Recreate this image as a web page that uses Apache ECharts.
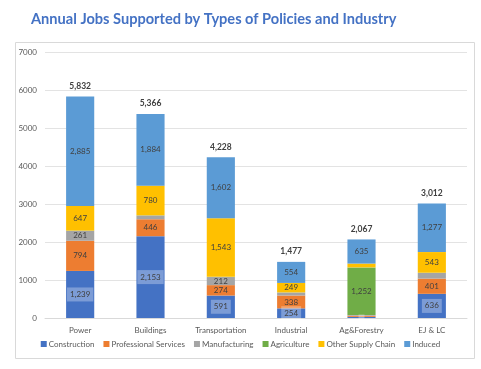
<!DOCTYPE html>
<html><head><meta charset="utf-8">
<script src="https://cdn.jsdelivr.net/npm/echarts@6/dist/echarts.min.js"></script>
<style>html,body{margin:0;padding:0;background:#fff;}#c{width:481px;height:369px;}</style>
</head><body><div id="c"></div>
<script>
const categories = ['Power','Buildings','Transportation','Industrial','Ag&Forestry','EJ & LC'];
const construction = [1239, 2153, 591, 254, 30, 636];
const professional = [794, 446, 274, 338, 30, 401];
const manufacturing = [261, 100, 212, 80, 20, 150];
const agriculture = [6, 3, 6, 2, 1252, 5];
const otherSupply = [647, 780, 1543, 249, 100, 543];
const induced = [2885, 1884, 1602, 554, 635, 1277];
const totals = [5832, 5366, 4228, 1477, 2067, 3012];
const yTicks = [0, 1000, 2000, 3000, 4000, 5000, 6000, 7000];

const FONT = 'Lato';
const fmt = v => v.toLocaleString('en-US');
function mk(name, data, color, boxed) {
  return {
    name, type: 'bar', stack: 'a', data, barWidth: '40%',
    itemStyle: { color },
    label: {
      show: true, position: 'inside', fontFamily: FONT, fontSize: 8, color: '#404040',
      formatter: p => p.value >= 200 ? fmt(p.value) : '',
      backgroundColor: boxed ? 'rgba(255,255,255,0.3)' : 'transparent',
      padding: boxed ? [3, 3] : 0
    }
  };
}
const series = [
  mk('Construction', construction, '#4472C4', true),
  mk('Professional Services', professional, '#ED7D31'),
  mk('Manufacturing', manufacturing, '#A5A5A5'),
  mk('Agriculture', agriculture, '#70AD47'),
  mk('Other Supply Chain', otherSupply, '#FFC000'),
  mk('Induced', induced, '#5B9BD5'),
  {
    name: 'Total', type: 'bar', stack: 'a', data: totals.map(() => 0), barWidth: '40%',
    itemStyle: { color: 'transparent' },
    label: { show: true, position: 'top', distance: 6, fontFamily: FONT, fontSize: 8.5, fontWeight: 'bold', color: '#404040',
      formatter: p => fmt(totals[p.dataIndex]) }
  }
];
const chart = echarts.init(document.getElementById('c'));
chart.setOption({
  animation: false,
  title: { text: 'Annual Jobs Supported by Types of Policies and Industry', left: 26, top: 7,
    textStyle: { fontFamily: FONT, fontSize: 14.6, fontWeight: 'bold', color: '#4472C4' } },
  graphic: [{ type: 'rect', shape: { x: 15.5, y: 42.5, width: 459, height: 316 }, style: { fill: 'none', stroke: '#D9D9D9', lineWidth: 1 }, z: -1 }],
  grid: { left: 45, right: 14, top: 52, bottom: 51 },
  legend: { bottom: 16, left: 'center', itemWidth: 6, itemHeight: 6, itemGap: 9, icon: 'rect',
    data: ['Construction','Professional Services','Manufacturing','Agriculture','Other Supply Chain','Induced'],
    textStyle: { fontFamily: FONT, fontSize: 8, color: '#595959', padding: [0, 0, 0, -3] } },
  xAxis: { type: 'category', data: categories,
    axisLine: { lineStyle: { color: '#D9D9D9' } }, axisTick: { show: false },
    axisLabel: { interval: 0, fontFamily: FONT, fontSize: 8, color: '#595959', margin: 8 } },
  yAxis: { type: 'value', min: yTicks[0], max: yTicks[yTicks.length - 1], interval: 1000,
    axisLine: { show: false }, axisTick: { show: false },
    splitLine: { lineStyle: { color: '#E3E3E3' } },
    axisLabel: { fontFamily: FONT, fontSize: 8, color: '#595959', margin: 8, formatter: v => String(v) } },
  series
});
</script></body></html>
